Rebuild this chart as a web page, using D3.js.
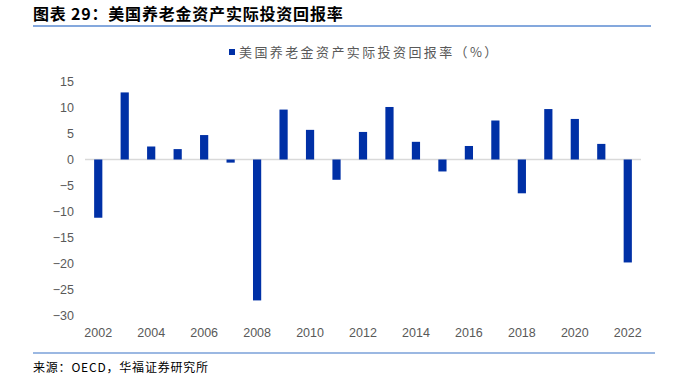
<!DOCTYPE html>
<html>
<head>
<meta charset="utf-8">
<script src="https://cdn.jsdelivr.net/npm/d3@7"></script>
<style>
  body { margin: 0; background: #fff; }
  svg { display: block; }
</style>
</head>
<body>
<div id="chart"></div>
<script>
// data
const years = ["2002", "2003", "2004", "2005", "2006", "2007", "2008", "2009", "2010", "2011",
    "2012", "2013", "2014", "2015", "2016", "2017", "2018", "2019", "2020", "2021", "2022"];
const returns = [-11.2, 12.9, 2.5, 2.0, 4.7, -0.6, -27.1, 9.6, 5.7, -3.9,
    5.3, 10.1, 3.4, -2.3, 2.6, 7.5, -6.5, 9.7, 7.8, 3.0, -19.8];
const yTicks = [15, 10, 5, 0, -5, -10, -15, -20, -25, -30];
const xTickLabels = years.filter((d, i) => i % 2 === 0);

const seriesName = "美国养老金资产实际投资回报率（%）";
const titleText = "图表 29：美国养老金资产实际投资回报率";
const sourceText = "来源：OECD，华福证券研究所";

const width = 683, height = 382;
const cjk = "'Noto Sans CJK SC', 'Noto Sans', sans-serif";
const latin = "'Liberation Sans', Arial, sans-serif";

const svg = d3.select("#chart")
    .append("svg")
    .attr("width", width)
    .attr("height", height);

// title + rules
svg.append("text")
    .attr("x", 33)
    .attr("y", 20)
    .attr("font-family", cjk)
    .attr("font-weight", "bold")
    .attr("font-size", "16px")
    .attr("letter-spacing", "0.8px")
    .attr("fill", "#000")
    .text(titleText);

svg.append("line")
    .attr("x1", 33).attr("x2", 651)
    .attr("y1", 26).attr("y2", 26)
    .attr("stroke", "#5b8bd2")
    .attr("stroke-width", 1.5);

svg.append("line")
    .attr("x1", 33).attr("x2", 655)
    .attr("y1", 353).attr("y2", 353)
    .attr("stroke", "#7aa0d8")
    .attr("stroke-width", 1.5);

svg.append("text")
    .attr("x", 33)
    .attr("y", 372)
    .attr("font-family", cjk)
    .attr("font-size", "12px")
    .attr("letter-spacing", "0.8px")
    .attr("fill", "#000")
    .text(sourceText);

// scales
const x = d3.scaleBand()
    .domain(years)
    .range([85, 641])
    .paddingInner(0.69)
    .paddingOuter(0.345);

const y = d3.scaleLinear()
    .domain([-30, 15])
    .range([315.5, 81.5]);

// y axis labels
const yAxis = svg.append("g")
    .attr("transform", "translate(74,0)")
    .call(d3.axisLeft(y).tickValues(yTicks).tickSize(0).tickPadding(0)
        .tickFormat(d => d < 0 ? "\u2212" + Math.abs(d) : d));
yAxis.select(".domain").remove();
yAxis.selectAll("text")
    .attr("font-family", latin)
    .attr("font-size", "12.5px")
    .attr("fill", "#595959");

// x axis labels
const xAxis = svg.append("g")
    .attr("transform", "translate(0,328)")
    .call(d3.axisBottom(x).tickValues(xTickLabels).tickSize(0).tickPadding(0));
xAxis.select(".domain").remove();
xAxis.selectAll("text")
    .attr("font-family", latin)
    .attr("font-size", "12.5px")
    .attr("fill", "#595959");

// zero line
svg.append("line")
    .attr("x1", 85).attr("x2", 641)
    .attr("y1", y(0)).attr("y2", y(0))
    .attr("stroke", "#d9d9d9")
    .attr("stroke-width", 1.5);

// bars
svg.selectAll("rect.bar")
    .data(returns)
    .enter()
    .append("rect")
    .attr("class", "bar")
    .attr("x", (d, i) => x(years[i]))
    .attr("width", x.bandwidth())
    .attr("y", d => y(Math.max(0, d)))
    .attr("height", d => Math.abs(y(d) - y(0)))
    .attr("fill", "#0030a6");

// legend
const legend = svg.append("g").attr("transform", "translate(229,52)");
legend.append("rect")
    .attr("x", 0).attr("y", -3)
    .attr("width", 6).attr("height", 6)
    .attr("fill", "#0030a6");
legend.append("text")
    .attr("x", 10)
    .attr("y", 0)
    .attr("dy", "0.36em")
    .attr("font-family", cjk)
    .attr("font-size", "13px")
    .attr("letter-spacing", "2.4px")
    .attr("fill", "#595959")
    .text(seriesName);
</script>
</body>
</html>
